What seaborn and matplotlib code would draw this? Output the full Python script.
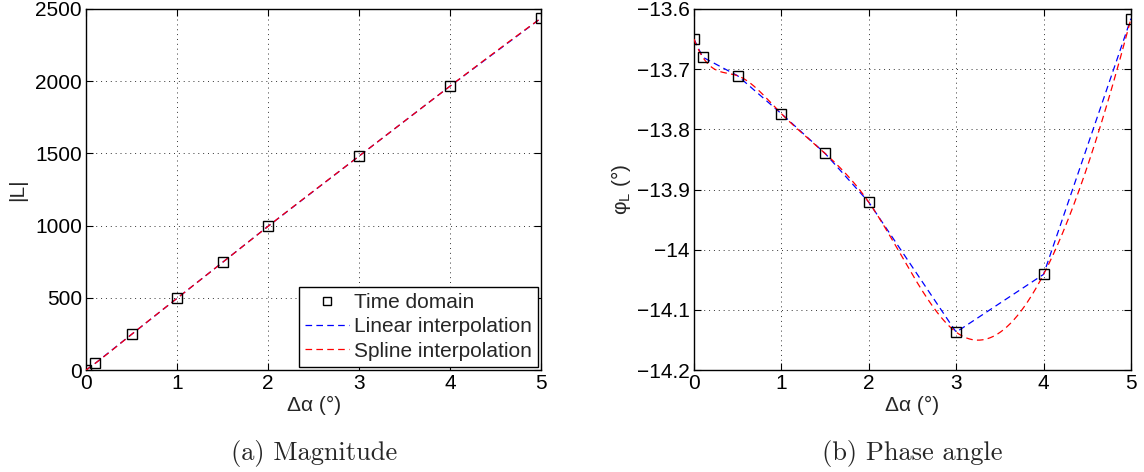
import numpy as np
import pandas as pd
import matplotlib
matplotlib.use("Agg")
import matplotlib.pyplot as plt
import seaborn as sns
from matplotlib.ticker import MultipleLocator

# ---- data ----
dalpha = [0, 0.1, 0.5, 1, 1.5, 2, 3, 4, 5]
magnitude = [0, 46, 247, 497, 746, 996, 1482, 1967, 2438]
phase = [-13.650, -13.680, -13.711, -13.774, -13.840, -13.921, -14.137, -14.041, -13.616]

sns.set_theme(style="ticks")
plt.rcParams["font.family"] = ["Liberation Sans", "DejaVu Sans"]
plt.rcParams["mathtext.fontset"] = "custom"
plt.rcParams["mathtext.rm"] = "Liberation Sans"
plt.rcParams["mathtext.it"] = "Liberation Sans:italic"


def spline_notaknot(x, y, xs):
    x = np.asarray(x, float); y = np.asarray(y, float)
    n = len(x); h = np.diff(x)
    A = np.zeros((n, n)); b = np.zeros(n)
    A[0, 0] = h[1]; A[0, 1] = -(h[0] + h[1]); A[0, 2] = h[0]
    A[-1, -3] = h[-1]; A[-1, -2] = -(h[-2] + h[-1]); A[-1, -1] = h[-2]
    for i in range(1, n - 1):
        A[i, i - 1] = h[i - 1]; A[i, i] = 2 * (h[i - 1] + h[i]); A[i, i + 1] = h[i]
        b[i] = 6 * ((y[i + 1] - y[i]) / h[i] - (y[i] - y[i - 1]) / h[i - 1])
    M = np.linalg.solve(A, b)
    idx = np.clip(np.searchsorted(x, xs) - 1, 0, n - 2)
    x0 = x[idx]; x1 = x[idx + 1]; hh = x1 - x0
    return (M[idx] * (x1 - xs) ** 3 / (6 * hh) + M[idx + 1] * (xs - x0) ** 3 / (6 * hh)
            + (y[idx] / hh - M[idx] * hh / 6) * (x1 - xs)
            + (y[idx + 1] / hh - M[idx + 1] * hh / 6) * (xs - x0))


FS = 15
xs = np.linspace(0, 5, 501)
fig = plt.figure(figsize=(11.44, 4.72), dpi=100)
ax1 = fig.add_axes([0.0752, 0.216, 0.398, 0.765])
ax2 = fig.add_axes([0.6066, 0.216, 0.382, 0.765])

dash = (0, (5.3, 3.4))
for ax, vals, ylab in [(ax1, magnitude, "|L|"), (ax2, phase, "φ$_{\\rm L}$ (°)")]:
    df = pd.DataFrame({"x": dalpha, "y": vals})
    sp = pd.DataFrame({"x": xs, "y": spline_notaknot(dalpha, vals, xs)})
    sns.lineplot(data=df, x="x", y="y", ax=ax, color="blue", lw=0.9,
                 linestyle=dash, label="Linear interpolation", zorder=2)
    sns.lineplot(data=sp, x="x", y="y", ax=ax, color="red", lw=0.9,
                 linestyle=dash, label="Spline interpolation", zorder=3)
    ax.plot(df["x"], df["y"], ls="none", marker="s", ms=7, mfc="none",
            mec="black", mew=1.0, label="Time domain", zorder=4)
    ax.set_xlim(0, 5)
    ax.xaxis.set_major_locator(MultipleLocator(1))
    ax.grid(True, ls=(0, (1, 4)), color="#333333", lw=0.7)
    ax.tick_params(direction="in", top=True, right=True, labelsize=FS,
                   length=5, width=0.8, colors="black", pad=3)
    for s in ax.spines.values():
        s.set_color("black"); s.set_linewidth(1.0)
    ax.set_xlabel("Δα (°)", fontsize=FS, labelpad=2)
    ax.set_ylabel(ylab, fontsize=FS, labelpad=6 if ax is ax1 else 3)

ax1.set_ylim(0, 2500)
ax1.yaxis.set_major_locator(MultipleLocator(500))
ax2.set_ylim(-14.2, -13.6)
ax2.yaxis.set_major_locator(MultipleLocator(0.1))
ax2.yaxis.set_major_formatter(plt.FuncFormatter(lambda v, p: ("%g" % round(v, 3)).replace("-", "\u2212")))
ax2.get_legend().remove()

h, l = ax1.get_legend_handles_labels()
order = [l.index("Time domain"), l.index("Linear interpolation"), l.index("Spline interpolation")]
leg = ax1.legend([h[i] for i in order], [l[i] for i in order], loc="lower right",
                 fontsize=FS, frameon=True, fancybox=False, edgecolor="black",
                 borderaxespad=0.15, handlelength=2.1, handletextpad=0.25,
                 labelspacing=0.25, borderpad=0.3, framealpha=1, markerscale=0.75)
leg.get_frame().set_linewidth(1.0)

fig.text(0.2742, 0.025, "(a) Magnitude", ha="center", fontsize=19, family="cmr10")
fig.text(0.7976, 0.025, "(b) Phase angle", ha="center", fontsize=19, family="cmr10")

fig.savefig("out.png", dpi=100)
